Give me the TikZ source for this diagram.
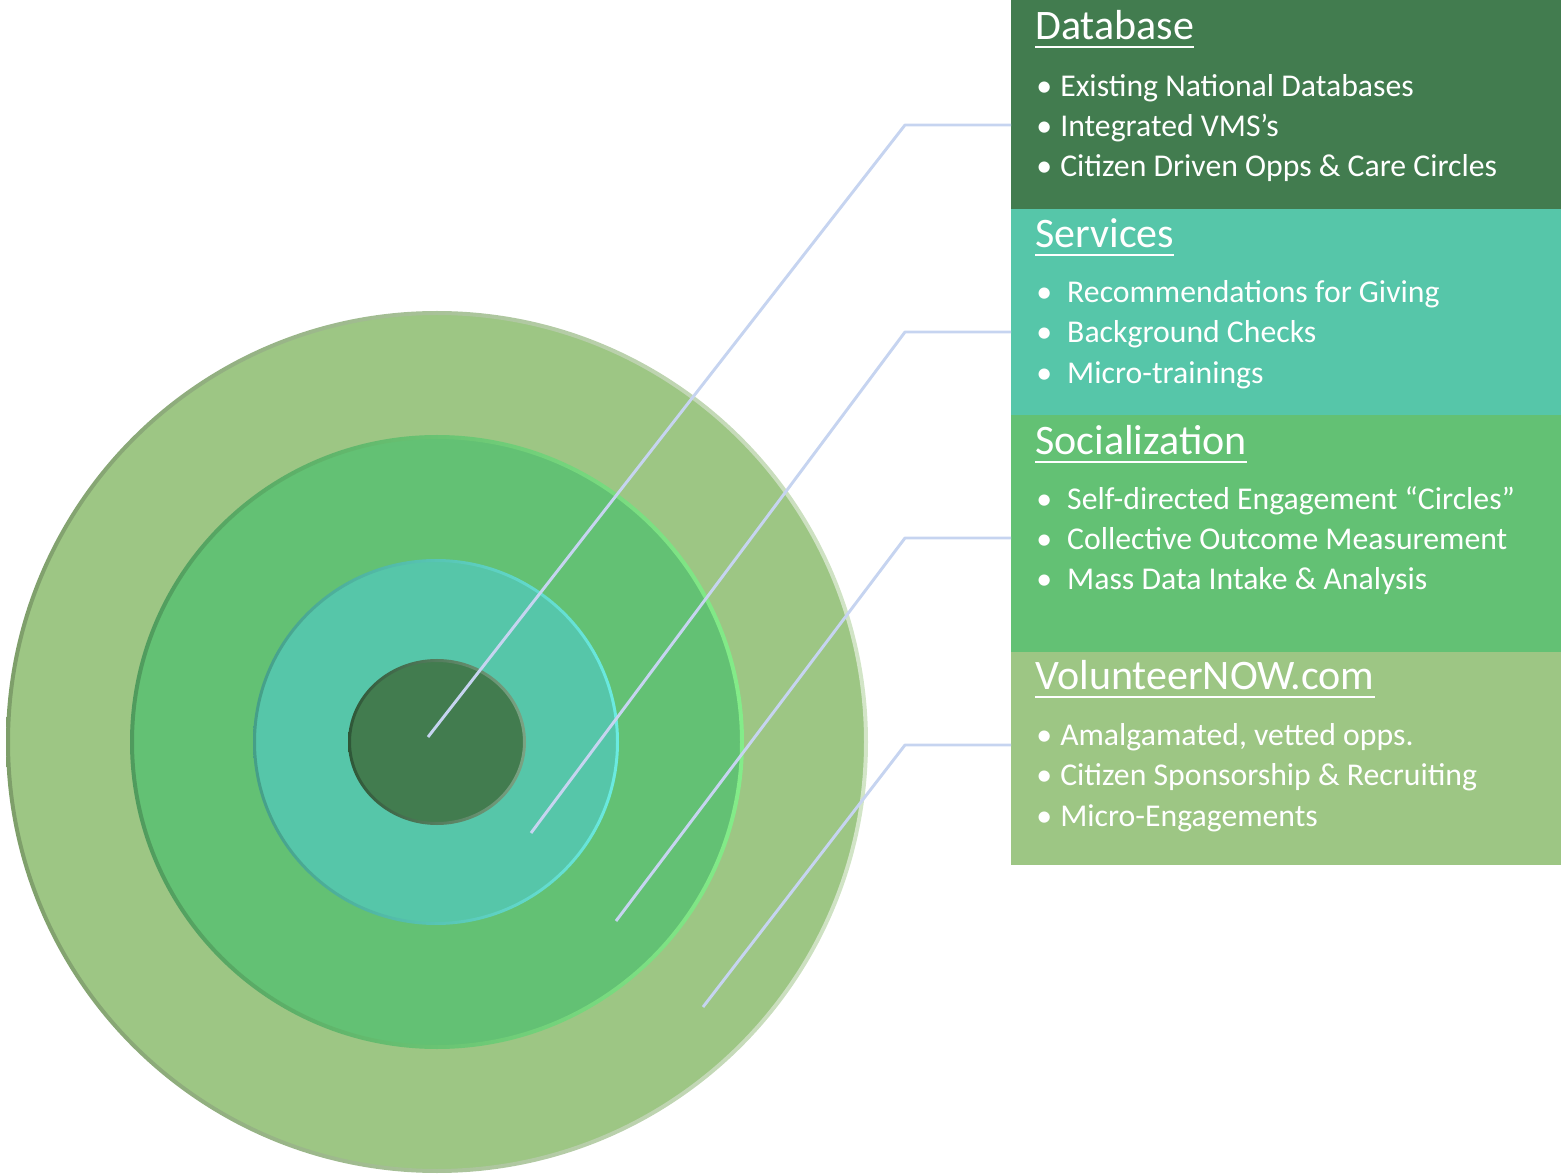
\documentclass[tikz,border=0pt]{standalone}
\usepackage{fontspec}
\setmainfont{Carlito}
\definecolor{cdb}{HTML}{427C4F}
\definecolor{csv}{HTML}{56C6A9}
\definecolor{cso}{HTML}{63C174}
\definecolor{cvn}{HTML}{9DC684}
\definecolor{cln}{HTML}{C6D4F0}
\newcommand{\blA}[1]{\makebox[18pt][l]{•}#1}
\newcommand{\blB}[1]{\makebox[23.25pt][l]{•}#1}
\begin{document}
\begin{tikzpicture}[x=0.75pt,y=-0.75pt,
  box/.style={rectangle, anchor=north west, inner sep=0, minimum width=412.5pt, draw=none},
  ttl/.style={anchor=base west, inner sep=0, text=white, font=\fontsize{31.5}{36}\selectfont},
  itm/.style={anchor=base west, inner sep=0, text=white, font=\fontsize{23.8}{28}\selectfont},
  uline/.style={draw=white, line width=2pt},
  conn/.style={draw=cln, line width=2.2pt, line join=round}]
\useasboundingbox (0,0) rectangle (1561,1176);
% circles
\fill[cvn] (437,742) circle (430);
\shade[even odd rule, left color=cvn!80!black, right color=cvn!45!white] (437,742) circle (431) (437,742) circle (427);
\fill[cso] (437,742) circle (306);
\shade[even odd rule, left color=cso!80!black, right color=cso!50!green!60!white] (437,742) circle (307) (437,742) circle (303);
\fill[csv] (436,742) circle (182);
\shade[even odd rule, left color=csv!80!black, right color=csv!50!cyan!70!white] (436,742) circle (183) (436,742) circle (180);
\fill[cdb] (437,742) ellipse (88 and 82);
\shade[even odd rule, left color=cdb!70!black, right color=cdb!70!white] (437,742) ellipse (89 and 83) (437,742) ellipse (86 and 80);
% boxes
\node[box, fill=cdb, minimum height=156.75pt] (db) at (1011,0) {};
\node[box, fill=csv, minimum height=154.5pt] (sv) at (1011,209) {};
\node[box, fill=cso, minimum height=177.75pt] (so) at (1011,415) {};
\node[box, fill=cvn, minimum height=159.75pt] (vn) at (1011,652) {};
% Database text
\node[ttl] (tdb) at (1035,40) {Database};
\draw[uline] ([yshift=-5.25pt]tdb.base west) -- ([yshift=-5.25pt]tdb.base east);
\node[itm] (db1) at (1036,97) {\blA{Existing National Databases}};
\node[itm] (db2) at (1036,137) {\blA{Integrated VMS’s}};
\node[itm] (db3) at (1036,177) {\blA{Citizen Driven Opps \& Care Circles}};
% Services text
\node[ttl] (tsv) at (1035,248) {Services};
\draw[uline] ([yshift=-5.25pt]tsv.base west) -- ([yshift=-5.25pt]tsv.base east);
\node[itm] (sv1) at (1036,303) {\blB{Recommendations for Giving}};
\node[itm] (sv2) at (1036,343) {\blB{Background Checks}};
\node[itm] (sv3) at (1036,384) {\blB{Micro-trainings}};
% Socialization text
\node[ttl] (tso) at (1035,455) {Socialization};
\draw[uline] ([yshift=-5.25pt]tso.base west) -- ([yshift=-5.25pt]tso.base east);
\node[itm] (so1) at (1036,510) {\blB{Self-directed Engagement “Circles”}};
\node[itm] (so2) at (1036,550) {\blB{Collective Outcome Measurement}};
\node[itm] (so3) at (1036,590) {\blB{Mass Data Intake \& Analysis}};
% VolunteerNOW text
\node[ttl] (tvn) at (1035,690) {VolunteerNOW.com};
\draw[uline] ([yshift=-5.25pt]tvn.base west) -- ([yshift=-5.25pt]tvn.base east);
\node[itm] (vn1) at (1036,745) {\blA{Amalgamated, vetted opps.}};
\node[itm] (vn2) at (1036,785) {\blA{Citizen Sponsorship \& Recruiting}};
\node[itm] (vn3) at (1036,826) {\blA{Micro-Engagements}};
% connectors
\coordinate (pdb) at (428,737);
\coordinate (psv) at (531,833);
\coordinate (pso) at (616,921);
\coordinate (pvn) at (703,1007);
\coordinate (kdb) at (905,125);
\coordinate (ksv) at (905,332);
\coordinate (kso) at (905,538);
\coordinate (kvn) at (905,745);
\draw[conn] (pdb) -- (kdb) -- (kdb -| db.west);
\draw[conn] (psv) -- (ksv) -- (ksv -| sv.west);
\draw[conn] (pso) -- (kso) -- (kso -| so.west);
\draw[conn] (pvn) -- (kvn) -- (kvn -| vn.west);
\end{tikzpicture}
\end{document}
